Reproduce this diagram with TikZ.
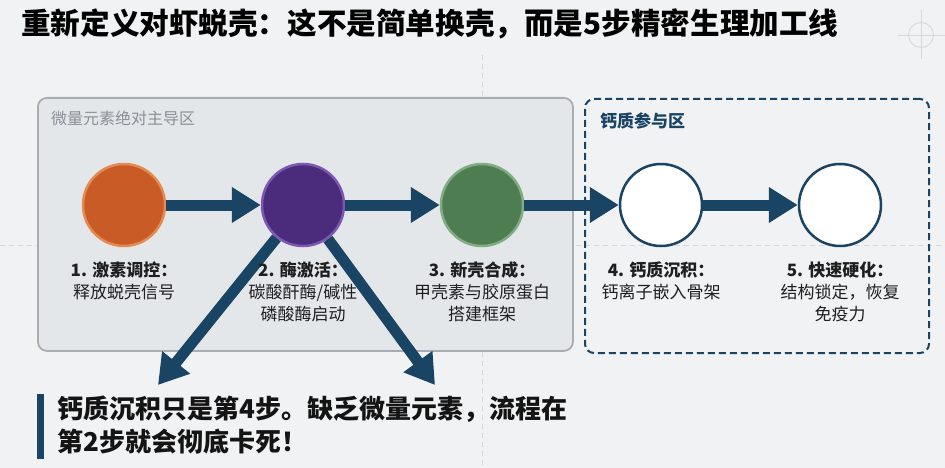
\documentclass[tikz,border=0pt]{standalone}
\usepackage{fontspec}
\setmainfont{Noto Sans CJK SC}
\usetikzlibrary{positioning,arrows.meta}

\definecolor{pagebg}{HTML}{F1F2F3}
\definecolor{zonefill}{HTML}{E4E7EA}
\definecolor{zoneline}{HTML}{A9ADB2}
\definecolor{navy}{HTML}{1A4464}
\definecolor{hormonefill}{HTML}{C95B27}
\definecolor{hormoneline}{HTML}{E38B52}
\definecolor{enzymefill}{HTML}{4A2B7C}
\definecolor{enzymeline}{HTML}{7D58B0}
\definecolor{shellfill}{HTML}{4E7D52}
\definecolor{shellline}{HTML}{82AC83}
\definecolor{labelgray}{HTML}{8A9097}
\definecolor{guidegray}{HTML}{D6D9DC}

\begin{document}
\begin{tikzpicture}[x=1pt, y=-1pt,
    stepdot/.style={circle, minimum size=82pt, inner sep=0pt, line width=2.5pt},
    steplabel/.style={align=center, inner sep=0pt, text=black!88,
        font=\fontsize{17}{22}\selectfont},
    flow/.style={draw=navy, line width=11pt, -{Triangle[length=29pt, width=34pt]}},
    guide/.style={draw=guidegray, line width=0.8pt, dash pattern=on 5pt off 4pt},
    zonebox/.style={draw, rounded corners=9pt, anchor=north west}
]

% page and margins
\fill[pagebg] (0,0) rectangle (945,468);
\useasboundingbox (0,0) rectangle (945,468);

% faint guides
\draw[guide] (482,55) -- (482,468);
\draw[guide] (0,245) -- (945,245);
\draw[guidegray, line width=0.9pt] (921,35) circle (12.5pt);
\draw[guidegray, line width=0.9pt] (898,35) -- (945,35);
\draw[guidegray, line width=0.9pt] (921,10) -- (921,59);

% title
\node[anchor=west, inner sep=0pt, font=\fontsize{29.6}{34}\selectfont\bfseries] (title) at (21,24)
{重新定义对虾蜕壳：这不是简单换壳，而是5步精密生理加工线};

% zones
\node[zonebox, fill=zonefill, draw=zoneline, line width=1.8pt,
    minimum width=535pt, minimum height=253pt] (micro) at (37,97) {};
\node[anchor=west, inner sep=0pt, text=labelgray, font=\fontsize{16}{20}\selectfont]
    at (51,118) {微量元素绝对主导区};

\node[zonebox, draw=navy, line width=2pt, dash pattern=on 7pt off 4pt,
    minimum width=344pt, minimum height=254pt] (calcium) at (584,98) {};
\node[anchor=west, inner sep=0pt, text=navy, font=\fontsize{17}{20}\selectfont\bfseries]
    at (600,121) {钙质参与区};

% five steps
\node[stepdot, fill=hormonefill, draw=hormoneline] (hormone) at (124,205) {};
\node[stepdot, fill=enzymefill, draw=enzymeline] (enzyme) at (303,205) {};
\node[stepdot, fill=shellfill, draw=shellline] (shell) at (482,205) {};
\node[stepdot, fill=white, draw=navy] (deposit) at (661,205) {};
\node[stepdot, fill=white, draw=navy] (harden) at (840,205) {};

% main line
\draw[flow] (hormone) -- (enzyme);
\draw[flow] (enzyme) -- (shell);
\draw[flow] (shell) -- (deposit);
\draw[flow] (deposit) -- (harden);

% branches out of step 2
\coordinate (fallleft) at (158,385);
\coordinate (fallright) at (435,385);
\draw[flow] (enzyme) -- (fallleft);
\draw[flow] (enzyme) -- (fallright);

% step texts
\node[steplabel, below=14pt of hormone] (hormonetext)
{\textbf{1. 激素调控：}\\释放蜕壳信号};
\node[steplabel, below=14pt of enzyme] (enzymetext)
{\textbf{2. 酶激活：}\\碳酸酐酶/碱性\\磷酸酶启动};
\node[steplabel, below=14pt of shell] (shelltext)
{\textbf{3. 新壳合成：}\\甲壳素与胶原蛋白\\搭建框架};
\node[steplabel, below=14pt of deposit] (deposittext)
{\textbf{4. 钙质沉积：}\\钙离子嵌入骨架};
\node[steplabel, below=14pt of harden] (hardentext)
{\textbf{5. 快速硬化：}\\结构锁定，恢复\\免疫力};

% bottom note
\node[anchor=north west, align=left, inner sep=0pt, text=black!92,
    font=\fontsize{26}{33}\selectfont\bfseries] (warning) at (57,396)
{钙质沉积只是第4步。缺乏微量元素，流程在\\第2步就会彻底卡死！};
\fill[navy] ([xshift=-20pt, yshift=2pt]warning.north west) rectangle ([xshift=-13pt, yshift=-4pt]warning.south west);

\end{tikzpicture}
\end{document}
